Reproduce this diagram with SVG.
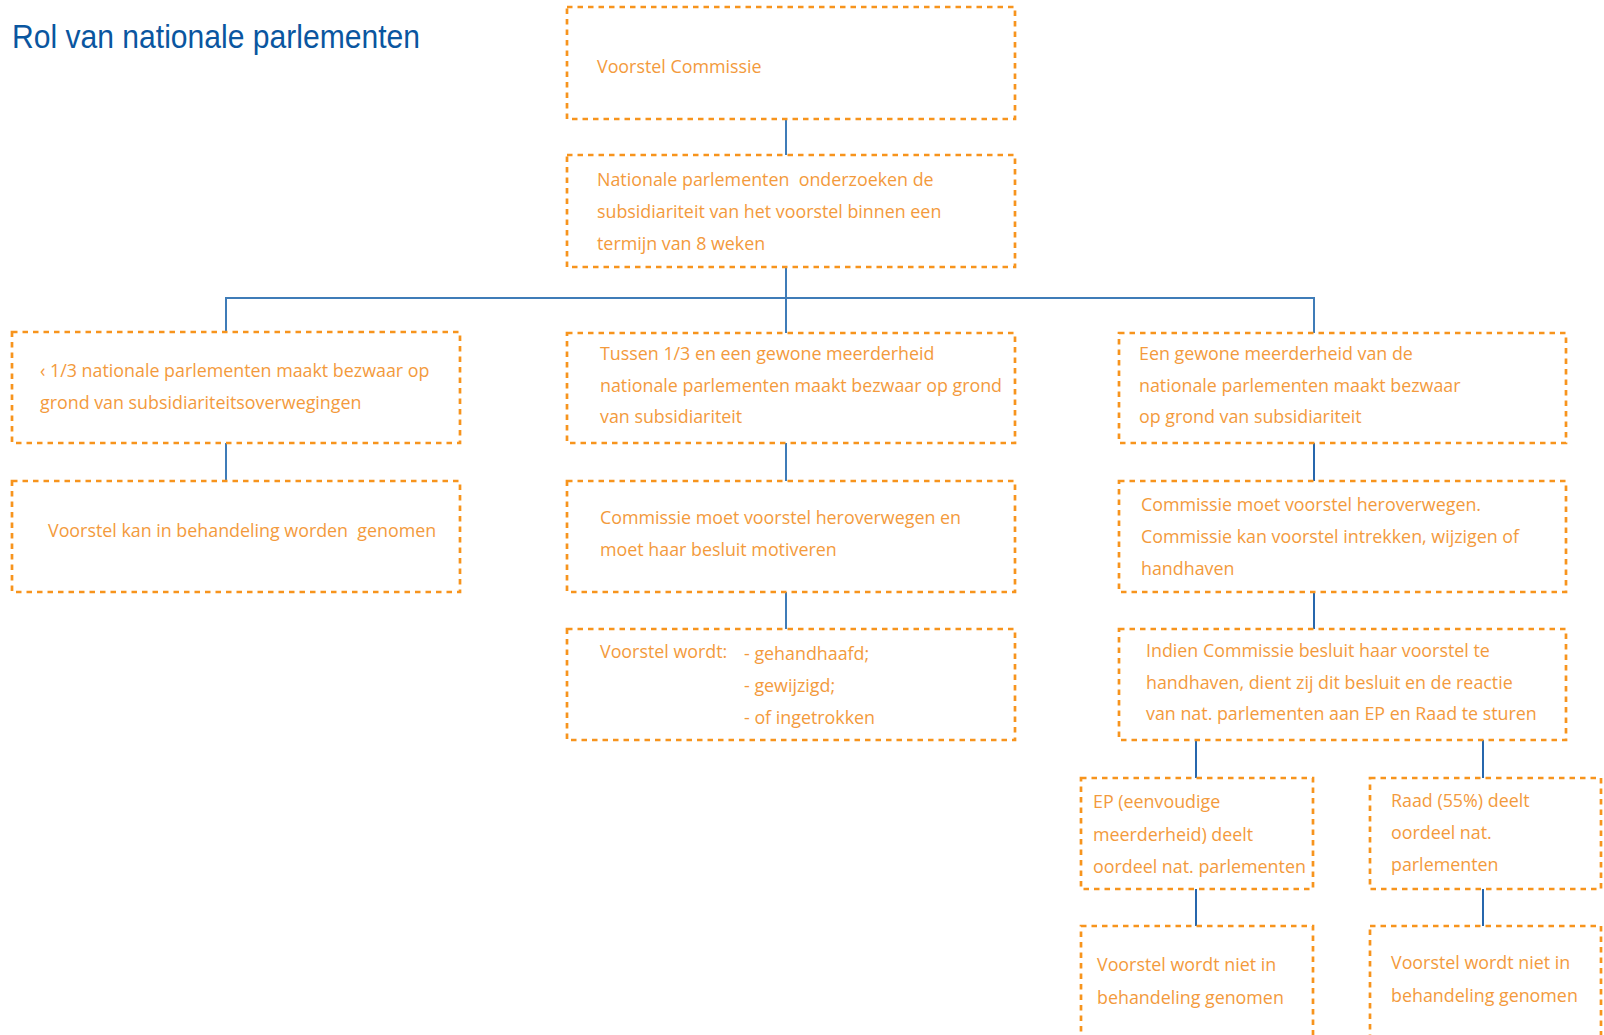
<svg xmlns="http://www.w3.org/2000/svg" width="1604" height="1035" viewBox="0 0 1604 1035">
<style>
.box{fill:none;stroke:#f7941d;stroke-width:2.7;stroke-dasharray:5.5 5}
.t{font-family:"Open Sans","Liberation Sans",sans-serif;font-size:17.85px;fill:#f39a3c;white-space:pre}
.c1{fill:none;stroke:#3f7cb8;stroke-width:2}
.c2{fill:none;stroke:#0f56a4;stroke-width:1.8}
.title{font-family:"Liberation Sans","Open Sans",sans-serif;font-size:33px;fill:#0a56a0}
</style>
<rect width="1604" height="1035" fill="#ffffff"/>
<text class="title" x="12" y="48" textLength="408" lengthAdjust="spacingAndGlyphs">Rol van nationale parlementen</text>
<g id="connectors">
<path class="c1" d="M786 119V155"/>
<path class="c1" d="M786 267V333"/>
<path class="c1" d="M226 332V298H1314V333"/>
<path class="c1" d="M226 443V481"/>
<path class="c1" d="M786 443V481"/>
<path class="c1" d="M786 592V629"/>
<path class="c2" d="M1314 443V481"/>
<path class="c2" d="M1314 592V629"/>
<path class="c2" d="M1196 740V778"/>
<path class="c2" d="M1483 740V778"/>
<path class="c2" d="M1196 889V926"/>
<path class="c2" d="M1483 889V926"/>
</g>
<g id="n1"><rect class="box" x="567" y="7" width="448" height="112"/><text class="t" x="597" y="73">Voorstel Commissie</text></g>
<g id="n2"><rect class="box" x="567" y="155" width="448" height="112"/>
<text class="t" x="597" y="186">Nationale parlementen  onderzoeken de</text>
<text class="t" x="597" y="218">subsidiariteit van het voorstel binnen een</text>
<text class="t" x="597" y="250">termijn van 8 weken</text></g>
<g id="n3"><rect class="box" x="12" y="332" width="448" height="111"/>
<text class="t" x="40" y="377">‹ 1/3 nationale parlementen maakt bezwaar op</text>
<text class="t" x="40" y="409">grond van subsidiariteitsoverwegingen</text></g>
<g id="n4"><rect class="box" x="12" y="481" width="448" height="111"/>
<text class="t" x="48" y="537">Voorstel kan in behandeling worden  genomen</text></g>
<g id="n5"><rect class="box" x="567" y="333" width="448" height="110"/>
<text class="t" x="600" y="360">Tussen 1/3 en een gewone meerderheid</text>
<text class="t" x="600" y="392">nationale parlementen maakt bezwaar op grond</text>
<text class="t" x="600" y="423">van subsidiariteit</text></g>
<g id="n6"><rect class="box" x="567" y="481" width="448" height="111"/>
<text class="t" x="600" y="524">Commissie moet voorstel heroverwegen en</text>
<text class="t" x="600" y="556">moet haar besluit motiveren</text></g>
<g id="n7"><rect class="box" x="567" y="629" width="448" height="111"/>
<text class="t" x="600" y="658">Voorstel wordt:</text>
<text class="t" x="744" y="660">- gehandhaafd;</text>
<text class="t" x="744" y="692">- gewijzigd;</text>
<text class="t" x="744" y="724">- of ingetrokken</text></g>
<g id="n8"><rect class="box" x="1119" y="333" width="447" height="110"/>
<text class="t" x="1139" y="360">Een gewone meerderheid van de</text>
<text class="t" x="1139" y="392">nationale parlementen maakt bezwaar</text>
<text class="t" x="1139" y="423">op grond van subsidiariteit</text></g>
<g id="n9"><rect class="box" x="1119" y="481" width="447" height="111"/>
<text class="t" x="1141" y="511">Commissie moet voorstel heroverwegen.</text>
<text class="t" x="1141" y="543">Commissie kan voorstel intrekken, wijzigen of</text>
<text class="t" x="1141" y="575">handhaven</text></g>
<g id="n10"><rect class="box" x="1119" y="629" width="447" height="111"/>
<text class="t" x="1146" y="657">Indien Commissie besluit haar voorstel te</text>
<text class="t" x="1146" y="689">handhaven, dient zij dit besluit en de reactie</text>
<text class="t" x="1146" y="720">van nat. parlementen aan EP en Raad te sturen</text></g>
<g id="n11"><rect class="box" x="1081" y="778" width="232" height="111"/>
<text class="t" x="1093" y="808">EP (eenvoudige</text>
<text class="t" x="1093" y="841">meerderheid) deelt</text>
<text class="t" x="1093" y="873">oordeel nat. parlementen</text></g>
<g id="n12"><rect class="box" x="1370" y="778" width="231" height="111"/>
<text class="t" x="1391" y="807">Raad (55%) deelt</text>
<text class="t" x="1391" y="839">oordeel nat.</text>
<text class="t" x="1391" y="871">parlementen</text></g>
<g id="n13"><rect class="box" x="1081" y="926" width="232" height="120"/>
<text class="t" x="1097" y="971">Voorstel wordt niet in</text>
<text class="t" x="1097" y="1004">behandeling genomen</text></g>
<g id="n14"><rect class="box" x="1370" y="926" width="231" height="120"/>
<text class="t" x="1391" y="969">Voorstel wordt niet in</text>
<text class="t" x="1391" y="1002">behandeling genomen</text></g>
</svg>
